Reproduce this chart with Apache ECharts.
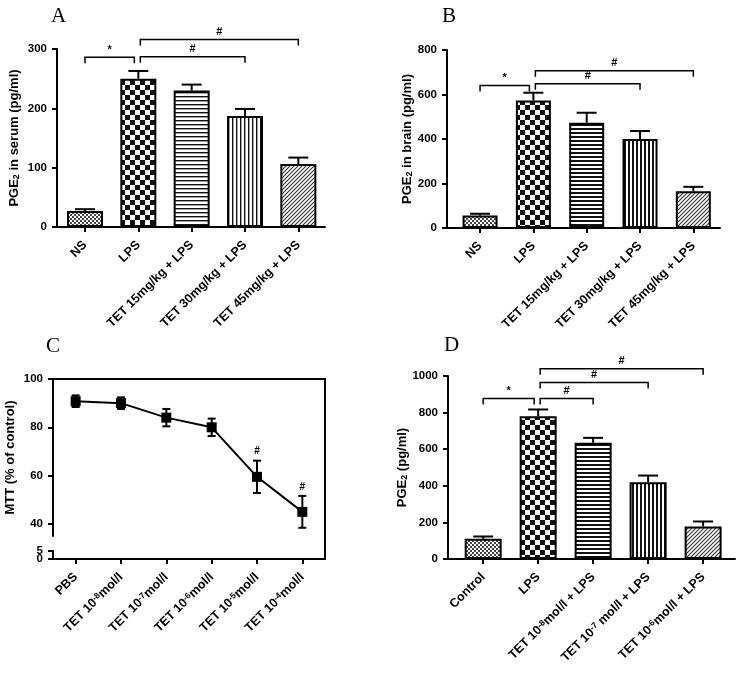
<!DOCTYPE html>
<html>
<head>
<meta charset="utf-8">
<script src="https://cdn.jsdelivr.net/npm/echarts@6/dist/echarts.min.js"></script>
<style>html,body{margin:0;padding:0;background:#fff}#c{width:737px;height:673px}</style>
</head>
<body>
<div id="c"></div>
<script>
// ---------- data ----------
const catA = ['NS', 'LPS', 'TET 15mg/kg + LPS', 'TET 30mg/kg + LPS', 'TET 45mg/kg + LPS'];
const valA = [27, 250, 230, 187, 106];
const errA = [3, 13, 10, 12, 11];
const bracketsA = [[0, 1, 286, '*'], [1, 3, 287, '#'], [1, 4, 316, '#']];

const catB = ['NS', 'LPS', 'TET 15mg/kg + LPS', 'TET 30mg/kg + LPS', 'TET 45mg/kg + LPS'];
const valB = [56, 573, 473, 400, 165];
const errB = [8, 35, 45, 36, 20];
const bracketsB = [[0, 1, 641, '*'], [1, 3, 648, '#'], [1, 4, 707, '#']];

const catC = ['PBS', 'TET 10{sup|-8}mol/l', 'TET 10{sup|-7}mol/l', 'TET 10{sup|-6}mol/l', 'TET 10{sup|-5}mol/l', 'TET 10{sup|-4}mol/l'];
const valC = [90.8, 90, 84, 80, 59.5, 45];
const errC = [2.4, 2.4, 3.6, 3.6, 6.7, 6.6];
const sigC = ['', '', '', '', '#', '#'];
const ticksCUpper = [40, 60, 80, 100];
const ticksCLowerZero = [0];
const ticksCLowerFive = [5];

const catD = ['Control', 'LPS', 'TET 10{sup|-8}mol/l + LPS', 'TET 10{sup|-7} mol/l + LPS', 'TET 10{sup|-6}mol/l + LPS'];
const valD = [110, 780, 635, 420, 178];
const errD = [13, 37, 27, 36, 27];
const bracketsD = [[0, 1, 877, '*'], [1, 2, 877, '#'], [1, 3, 964, '#'], [1, 4, 1040, '#']];

// ---------- patterns ----------
function pat(type, heavy) {
  const c = document.createElement('canvas');
  let s = 4;
  if (type === 'check') s = 10;
  c.width = s; c.height = s;
  const g = c.getContext('2d');
  g.fillStyle = '#fff'; g.fillRect(0, 0, s, s);
  g.fillStyle = '#111'; g.strokeStyle = '#222';
  if (type === 'fine') { g.fillStyle = '#444'; g.fillRect(0, 0, 2, 2); g.fillRect(2, 2, 2, 2); }
  if (type === 'check') { g.fillRect(0, 0, 5, 5); g.fillRect(5, 5, 5, 5); }
  if (type === 'h') { g.fillRect(0, 0, s, heavy ? 2 : 1.4); }
  if (type === 'v') { g.fillRect(0, 0, heavy ? 2 : 1.4, s); }
  if (type === 'd') {
    g.lineWidth = 1.1; g.strokeStyle = '#333';
    g.beginPath();
    g.moveTo(0, 4); g.lineTo(4, 0);
    g.moveTo(-1, 1); g.lineTo(1, -1);
    g.moveTo(3, 5); g.lineTo(5, 3);
    g.stroke();
  }
  return { image: c, repeat: 'repeat' };
}
const patsLight = [pat('fine'), pat('check'), pat('h', false), pat('v', false), pat('d')];
const patsHeavy = [pat('fine'), pat('check'), pat('h', true), pat('v', true), pat('d')];

// ---------- helpers ----------
const FF = '"Liberation Sans", Arial, sans-serif';
const supRich = {
  sup: { fontSize: 8.5, fontWeight: 'bold', fontFamily: FF, color: '#000', lineHeight: 8, verticalAlign: 'top' }
};
const subRich = {
  sub: { fontSize: 9, fontWeight: 'bold', fontFamily: FF, color: '#000', lineHeight: 9, verticalAlign: 'bottom' }
};
const axLine = { show: true, onZero: false, lineStyle: { color: '#000', width: 2 } };
const axTick = { show: true, length: 5, lineStyle: { color: '#000', width: 2 } };
const yLabel = { fontSize: 11.5, fontWeight: 'bold', fontFamily: FF, color: '#000', margin: 10, showMinLabel: true, showMaxLabel: true, hideOverlap: false, formatter: v => String(v) };

function catXAxis(gridIndex, cats, min, max) {
  const idx = cats.map((_, i) => i);
  return {
    type: 'value', gridIndex, min, max,
    axisLine: axLine,
    axisTick: Object.assign({ customValues: idx }, axTick),
    splitLine: { show: false },
    axisLabel: {
      customValues: idx, rotate: 45, margin: 16, interval: 0,
      fontSize: 12.5, fontWeight: 'bold', fontFamily: FF, color: '#000',
      formatter: v => cats[Math.round(v)] || '', rich: supRich
    }
  };
}
function valYAxis(gridIndex, min, max, interval, name, nameGap) {
  return {
    type: 'value', gridIndex, position: 'left', min, max, interval,
    name, nameLocation: 'middle', nameGap,
    nameTextStyle: { fontSize: 13, fontWeight: 'bold', fontFamily: FF, color: '#000', rich: subRich },
    axisLine: axLine, axisTick: axTick, splitLine: { show: false },
    axisLabel: yLabel
  };
}
function customTickYAxis(gridIndex, min, max, ticks, name, nameGap, extraLabel) {
  const ax = valYAxis(gridIndex, min, max, null, name, nameGap);
  delete ax.interval;
  ax.axisTick = Object.assign({ customValues: ticks }, axTick);
  ax.axisLabel = Object.assign({ customValues: ticks }, yLabel, extraLabel || {});
  return ax;
}
function barSeries(ai, vals, pats, width) {
  return {
    type: 'bar', xAxisIndex: ai, yAxisIndex: ai, barWidth: width, z: 2,
    data: vals.map((v, i) => ({ value: [i, v], itemStyle: { color: pats[i] } })),
    itemStyle: { borderColor: '#000', borderWidth: 2 }
  };
}
function errSeries(ai, vals, errs, both, capHalf, sig) {
  return {
    type: 'custom', xAxisIndex: ai, yAxisIndex: ai, z: 5,
    data: vals.map((v, i) => [i, v, errs[i]]),
    encode: { x: 0, y: 1 },
    renderItem: function (params, api) {
      const x = api.value(0), y = api.value(1), e = api.value(2);
      const pt = api.coord([x, y + e]);
      const pb = api.coord([x, both ? y - e : y]);
      const ch = [
        { type: 'line', shape: { x1: pt[0], y1: pt[1], x2: pb[0], y2: pb[1] }, style: { stroke: '#000', lineWidth: 2 } },
        { type: 'line', shape: { x1: pt[0] - capHalf, y1: pt[1], x2: pt[0] + capHalf, y2: pt[1] }, style: { stroke: '#000', lineWidth: 2 } }
      ];
      if (both) ch.push({ type: 'line', shape: { x1: pb[0] - capHalf, y1: pb[1], x2: pb[0] + capHalf, y2: pb[1] }, style: { stroke: '#000', lineWidth: 2 } });
      if (sig && sig[params.dataIndex]) ch.push({ type: 'text', style: { text: sig[params.dataIndex], x: pt[0], y: pt[1] - 4, align: 'center', verticalAlign: 'bottom', font: 'bold 10px ' + FF, fill: '#000' } });
      return { type: 'group', children: ch };
    }
  };
}
function bracketSeries(ai, list) {
  return {
    type: 'custom', xAxisIndex: ai, yAxisIndex: ai, z: 6, clip: false,
    data: list.map(b => [b[0], b[1], b[2]]),
    encode: { x: [0, 1], y: 2 },
    renderItem: function (params, api) {
      const b = list[params.dataIndex];
      const a = api.coord([b[0], b[2]]), c = api.coord([b[1], b[2]]);
      let x1 = a[0], x2 = c[0];
      if (b[1] === 1) x2 -= 4;
      if (b[0] === 1) x1 += 2;
      const y = a[1], drop = 6;
      return {
        type: 'group', children: [
          { type: 'polyline', shape: { points: [[x1, y + drop], [x1, y], [x2, y], [x2, y + drop]] }, style: { stroke: '#000', lineWidth: 1.5, fill: null } },
          { type: 'text', style: { text: b[3], x: (x1 + x2) / 2, y: y - 2, align: 'center', verticalAlign: 'bottom', font: 'bold 11px ' + FF, fill: '#000' } }
        ]
      };
    }
  };
}
const titleStyle = { fontFamily: '"Liberation Serif", "DejaVu Serif", serif', fontWeight: 'normal', fontSize: 21, color: '#000' };

const chart = echarts.init(document.getElementById('c'), null, { renderer: 'canvas' });
chart.setOption({
  animation: false,
  backgroundColor: '#fff',
  title: [
    { text: 'A', left: 51, top: 6, padding: 0, textStyle: titleStyle },
    { text: 'B', left: 442, top: 6, padding: 0, textStyle: titleStyle },
    { text: 'C', left: 46, top: 336, padding: 0, textStyle: titleStyle },
    { text: 'D', left: 444, top: 335, padding: 0, textStyle: titleStyle }
  ],
  grid: [
    { left: 57, top: 49, width: 268, height: 178 },   // A
    { left: 447, top: 50, width: 273, height: 178 },  // B
    { left: 53, top: 379, width: 272, height: 157 },  // C upper
    { left: 53, top: 551, width: 272, height: 8 },    // C lower
    { left: 53, top: 379, width: 272, height: 180 },  // C frame
    { left: 448, top: 376, width: 287, height: 183 }  // D
  ],
  xAxis: [
    catXAxis(0, catA, -0.525, 4.5),
    catXAxis(1, catB, -0.62, 4.5),
    { type: 'value', gridIndex: 2, min: -0.5, max: 5.5, show: false },
    catXAxis(3, catC, -0.5, 5.5),
    { type: 'value', gridIndex: 4, min: 0, max: 1, position: 'top', axisLine: axLine, axisTick: { show: false }, axisLabel: { show: false }, splitLine: { show: false } },
    catXAxis(5, catD, -0.64, 4.58)
  ],
  yAxis: [
    valYAxis(0, 0, 300, 100, 'PGE{sub|2} in serum (pg/ml)', 36),
    valYAxis(1, 0, 800, 200, 'PGE{sub|2} in brain (pg/ml)', 30),
    customTickYAxis(2, 35, 100, ticksCUpper, 'MTT (% of control)', 36),
    customTickYAxis(3, 0, 5, ticksCLowerZero, '', 0, { verticalAlign: 'middle', lineHeight: 10 }),
    { type: 'value', gridIndex: 4, min: 0, max: 1, position: 'right', axisLine: axLine, axisTick: { show: false }, axisLabel: { show: false }, splitLine: { show: false } },
    valYAxis(5, 0, 1000, 200, 'PGE{sub|2} (pg/ml)', 38),
    customTickYAxis(3, 0, 5, ticksCLowerFive, '', 0, { verticalAlign: 'middle', lineHeight: 10, padding: [0, 0, 4, 0] })
  ],
  series: [
    barSeries(0, valA, patsLight, 36),
    errSeries(0, valA, errA, false, 10),
    bracketSeries(0, bracketsA),
    barSeries(1, valB, patsHeavy, 35),
    errSeries(1, valB, errB, false, 10),
    bracketSeries(1, bracketsB),
    {
      type: 'line', xAxisIndex: 2, yAxisIndex: 2, z: 4,
      data: valC.map((v, i) => [i, v]),
      symbol: 'rect', symbolSize: 10,
      lineStyle: { color: '#000', width: 2 }, itemStyle: { color: '#000' }
    },
    errSeries(2, valC, errC, true, 4, sigC),
    barSeries(5, valD, patsHeavy, 37),
    errSeries(5, valD, errD, false, 10),
    bracketSeries(5, bracketsD)
  ]
});
</script>
</body>
</html>
